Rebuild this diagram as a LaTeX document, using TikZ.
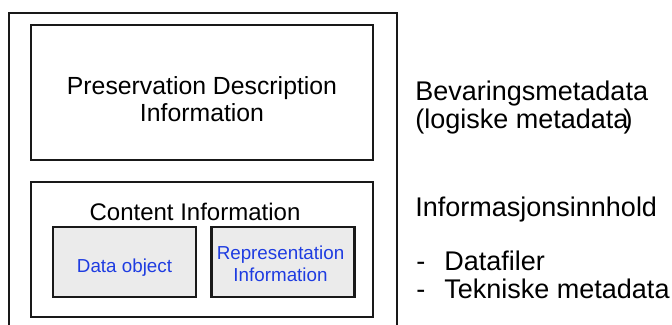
\documentclass[tikz,border=0pt]{standalone}
\usepackage{fontspec}
\setmainfont{Liberation Sans}
\usetikzlibrary{positioning}
\definecolor{boxgray} {RGB}{235,235,235}
\definecolor{textblue}{RGB}{30,60,225}
\definecolor{linegray}{RGB}{25,25,25}
\tikzset{
  bigbox/.style ={draw=linegray, line width=1.35pt, inner sep=0pt,
                  minimum width=171pt, minimum height=67.5pt},
  subbox/.style ={draw=linegray, line width=1.35pt, fill=boxgray, inner sep=0pt,
                  minimum width=71.5pt, minimum height=35pt},
  bluetext/.style={text=textblue, align=center, inner sep=0pt,
                   font=\fontsize{9.4}{11}\selectfont},
  sidetext/.style={align=left, inner sep=0pt,
                   font=\fontsize{13.5}{14}\selectfont},
}

\begin{document}
\begin{tikzpicture}[x=0.5pt, y=-0.5pt,
  boxtext/.style={align=center, inner sep=0pt, font=\fontsize{12.4}{13.5}\selectfont},
  dashitem/.style={sidetext, anchor=base west},
]
  \clip (0,0) rectangle (672,325);
  %% outer package frame, runs past the lower edge
  \draw[draw=linegray, line width=0.85pt] (9,13) rectangle (397,345);

  \node[bigbox] (pdi) at (202,92.5) {};
  \node[boxtext] (pditext) at (202,99) {Preservation Description\\Information};

  \node[bigbox] (content) at (202,249.5) {};
  \node[boxtext, font=\fontsize{12}{13.5}\selectfont] (contenttext) at (195,211.5)
        {Content Information};
  \node[subbox] (dataobj) at (124.5,262) {};
  \node[subbox, right=6.5pt of dataobj] (repinfo) {};
  \node[bluetext] (dataobjtext) at (124.5,268) {Data object};
  \node[bluetext] (repinfotext) at (280.5,263.5) {Representation\\Information};

  %% labels on the right
  \node[sidetext, anchor=north west] (bevaring) at (415,81)
        {Bevaringsmetadata\\(logiske metadata\kern-2.5pt)};
  \node[dashitem] (innhold) at (415,216.5) {Informasjonsinnhold};
  \node[dashitem] (datafiler) at (416,270) {\makebox[14pt][l]{-}Datafiler};
  \node[dashitem] (tekniske) at (416,298) {\makebox[14pt][l]{-}Tekniske metadata};
\end{tikzpicture}
\end{document}
